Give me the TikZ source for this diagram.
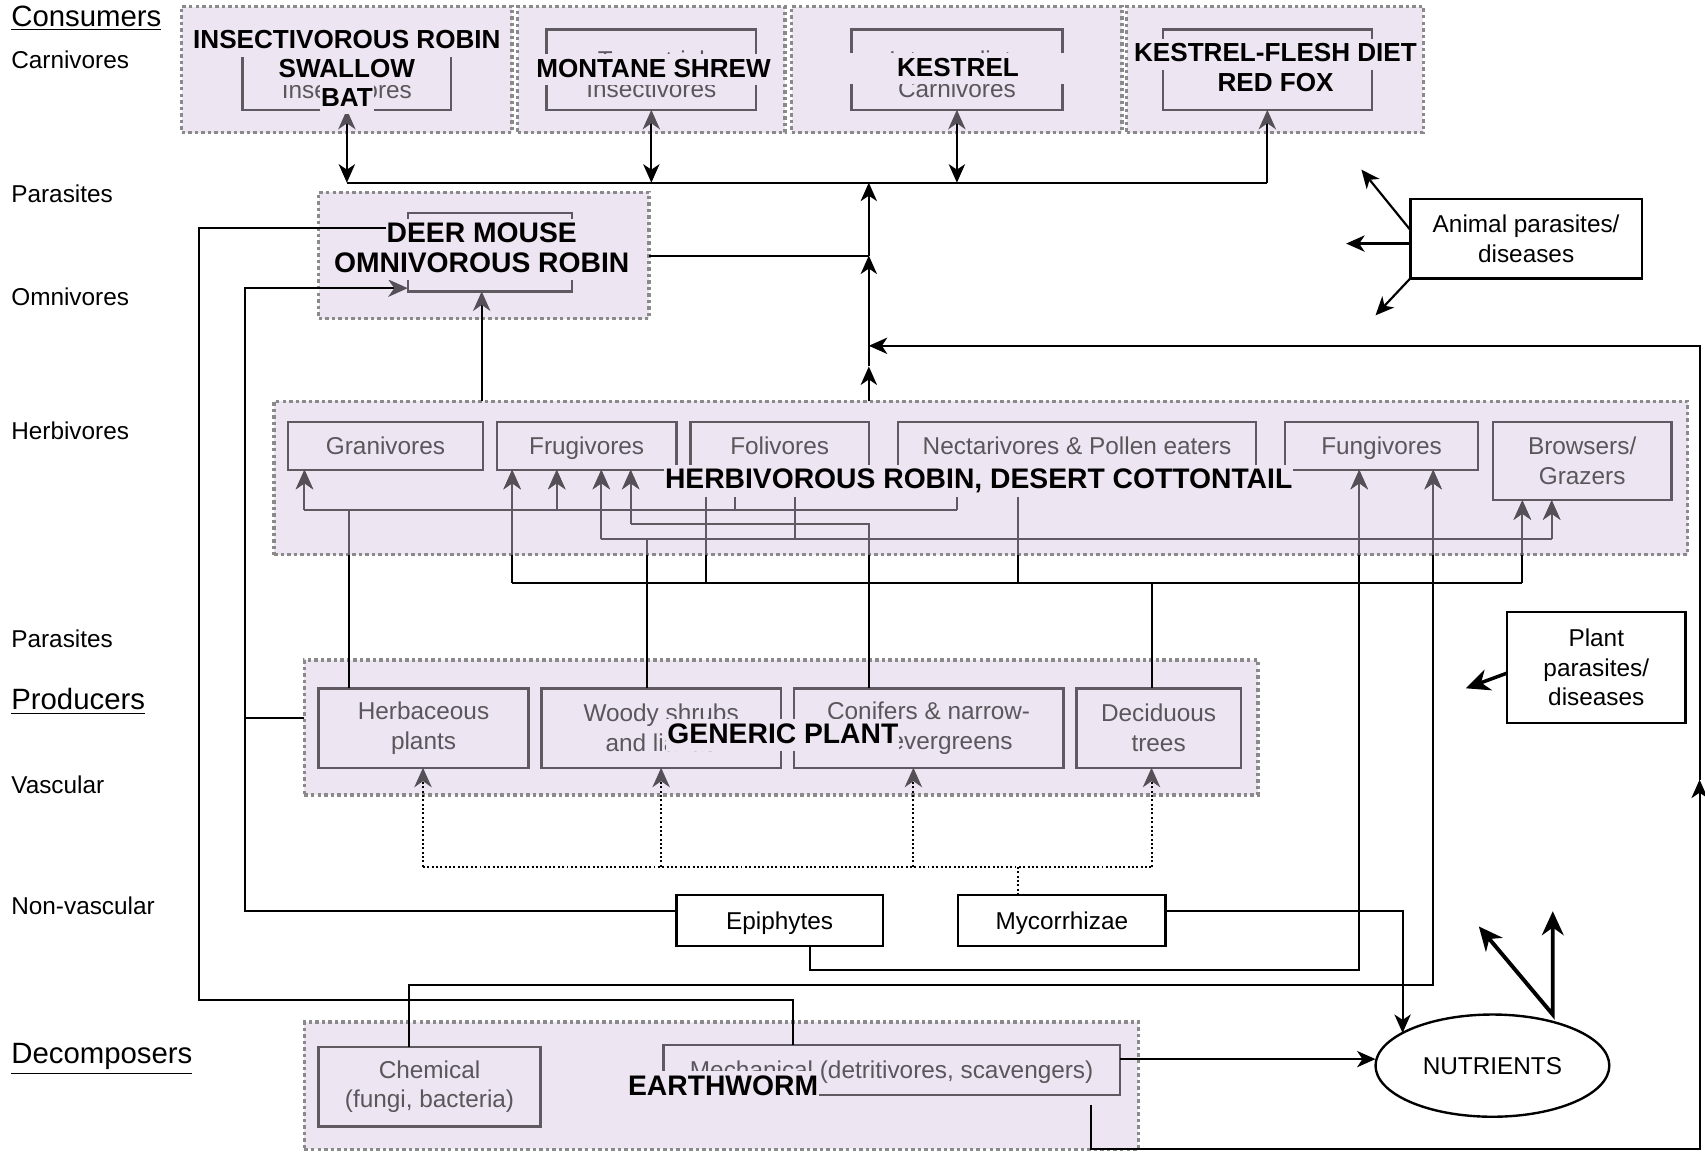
\documentclass[tikz,border=0pt]{standalone}
\usepackage{fontspec}
\setmainfont{Liberation Sans}
\usetikzlibrary{positioning,arrows.meta,shapes.geometric}

\definecolor{lav}{RGB}{237,229,241}
\definecolor{dotgrey}{RGB}{138,138,138}
\definecolor{boxgrey}{RGB}{95,90,98}
\definecolor{txtgrey}{RGB}{90,87,92}
\definecolor{arrowgrey}{RGB}{85,80,88}

% wires from the producers into the herbivores
\newcommand\herbwires{%
  % herbaceous plants
  \draw[wire] (pHerb.north -| 321,0) -- (321,469);
  \draw[wire] (280,469) -- (880,469);
  \draw[wire,-Gt] (280,469) -- (hGran.south -| 280,0);
  \draw[wire,-Gt] (512,469) -- (hFrug.south -| 512,0);
  \draw[wire] (676,469) -- (hFoli.south -| 676,0);
  \draw[wire] (880,469) -- (hNect.south -| 880,0);
  % woody shrubs
  \draw[wire] (pWood.north -| 595,0) -- (595,496);
  \draw[wire] (553,496) -- (1427,496);
  \draw[wire,-Gt] (553,496) -- (hFrug.south -| 553,0);
  \draw[wire,-Gt] (1427,496) -- (hBrow.south -| 1427,0);
  \draw[wire] (731,496) -- (hFoli.south -| 731,0);
  % conifers
  \draw[wire] (pConi.north -| 799,0) -- (799,482) -- (580,482);
  \draw[wire,-Gt] (580,482) -- (hFrug.south -| 580,0);
  % deciduous trees
  \draw[wire] (pDeci.north -| 1059,0) -- (1059,536);
  \draw[wire] (471,536) -- (1400,536);
  \draw[wire,-Gt] (471,536) -- (hFrug.south -| 471,0);
  \draw[wire,-Gt] (1400,536) -- (hBrow.south -| 1400,0);
  \draw[wire] (649,536) -- (hFoli.south -| 649,0);
  \draw[wire] (936,536) -- (hNect.south -| 936,0);
  % epiphytes and chemical decomposers
  \draw[wire,-Gt] (ep.south -| 745,0) |- (1250,892) -- (hFung.south -| 1250,0);
  \draw[wire,-Gt] (dChem.north -| 376,0) |- (1318,906) -- (hFung.south -| 1318,0);
}

\begin{document}
\begin{tikzpicture}[x=0.5pt, y=-0.5pt,
    every node/.style={font=\fontsize{11.2}{13.6}\selectfont},
    group/.style={draw=dotgrey, fill=lav, line width=1.6pt,
                  dash pattern=on 1.6pt off 1.4pt,
                  inner sep=0pt, outer sep=0pt},
    sub/.style={draw=boxgrey, line width=1.1pt, text=txtgrey,
                align=center, inner sep=0pt, outer sep=0pt},
    one/.style={text height=8.1pt, text depth=0pt},
    ink/.style={text=txtgrey, align=center, inner sep=0pt},
    plain/.style={draw, line width=1.1pt, fill=white, align=center,
                  inner sep=0pt, outer sep=0pt},
    tag/.style={fill=lav, inner sep=0.5pt, text height=10pt, text depth=3pt,
                font=\bfseries\fontsize{12}{13.5}\selectfont},
    bigtag/.style={tag, text height=10.5pt, text depth=3.2pt,
                font=\bfseries\fontsize{13}{14}\selectfont},
    side/.style={anchor=west, inner sep=0pt},
    head/.style={side, font=\fontsize{13.5}{16}\selectfont},
    wire/.style={line width=0.9pt},
    dots/.style={line width=0.9pt, dash pattern=on 0.9pt off 1.1pt},
    Bt/.tip={Stealth[length=8.5pt,width=7.5pt,inset=2.5pt]},
    Gt/.tip={Stealth[length=9pt,width=8pt,inset=2.8pt,color=arrowgrey]},
    Wt/.tip={Stealth[length=11pt,width=10pt,inset=3.5pt]}
  ]

    \fill[white] (0,0) rectangle (1568,1066);
    \useasboundingbox (0,0) rectangle (1568,1066);

    % side labels
    \node[head] (hCon) at (10,17) {\underline{Consumers}};
    \node[side] (sCar) at (10,55) {Carnivores};
    \node[side] (sPa1) at (10,178) {Parasites};
    \node[side] (sOmn) at (10,273) {Omnivores};
    \node[side] (sHer) at (10,396) {Herbivores};
    \node[side] (sPa2) at (10,587) {Parasites};
    \node[head] (hPro) at (10,645) {\underline{Producers}};
    \node[side] (sVas) at (10,722) {Vascular};
    \node[side] (sNon) at (10,833) {Non-vascular};
    \node[head] (hDec) at (10,974) {\underline{Decomposers}};

    % consumers
    \node[group, minimum width=152pt, minimum height=58pt] (gIns) at (319,64) {};
    \node[group, minimum width=123pt, minimum height=58pt, right=2.5pt of gIns] (gTer) {};
    \node[group, minimum width=152pt, minimum height=58pt, right=3pt of gTer] (gInt) {};
    \node[group, minimum width=136.5pt, minimum height=58pt, right=2pt of gInt] (gTop) {};
    \node[sub, minimum width=96pt, minimum height=37pt] (iIns) at (gIns) {};
    \node[sub, minimum width=96.5pt, minimum height=37pt] (iTer) at (gTer) {};
    \node[sub, minimum width=97pt, minimum height=37pt] (iInt) at (gInt) {};
    \node[sub, minimum width=96pt, minimum height=37pt] (iTop) at ([xshift=-3.5pt]gTop.center) {};
    \node[ink] (tIns) at (319,83) {Insectivores};
    \node[ink] (tTer) at ([yshift=-2.25pt]iTer.center) {Terrestrial\\Insectivores};
    \node[ink] (tInt) at ([yshift=-2.25pt]iInt.center) {Intermediate\\Carnivores};

    % omnivores
    \node[group, minimum width=152pt, minimum height=58pt] (gOmn) at (445,235) {};
    \node[sub, minimum width=75.5pt, minimum height=36pt] (oIn) at (450.5,232) {};

    % herbivores
    \node[group, minimum width=650pt, minimum height=70.5pt] (gHerb) at (902,439.5) {};
    \node[sub, one, minimum width=89.5pt, minimum height=22pt] (hGran) at (354.5,410) {Granivores};
    \node[sub, one, minimum width=82.5pt, minimum height=22pt, right=6.5pt of hGran] (hFrug) {Frugivores};
    \node[sub, one, minimum width=82pt, minimum height=22pt, right=6.5pt of hFrug] (hFoli) {Folivores};
    \node[sub, one, minimum width=164.5pt, minimum height=22pt, right=13.5pt of hFoli] (hNect) {Nectarivores \& Pollen eaters};
    \node[sub, one, minimum width=88.5pt, minimum height=22pt, right=13.5pt of hNect] (hFung) {Fungivores};
    \node[sub, minimum width=82pt, minimum height=36pt, anchor=north west] (hBrow)
        at ([xshift=7pt]hFung.north east) {Browsers/\\Grazers};

    % producers
    \node[group, minimum width=438.5pt, minimum height=62pt] (gProd) at (718.5,669) {};
    \node[sub, minimum width=96.5pt, minimum height=36.5pt] (pHerb) at (389.5,669.5) {Herbaceous\\plants};
    \node[sub, minimum width=110pt, minimum height=36.5pt, right=6pt of pHerb] (pWood) {Woody shrubs\\and lianas};
    \node[sub, minimum width=124pt, minimum height=36.5pt, right=6pt of pWood] (pConi) {Conifers \& narrow-\\leaf evergreens};
    \node[sub, minimum width=75.5pt, minimum height=36.5pt, right=6pt of pConi] (pDeci) {Deciduous\\trees};

    % non-vascular
    \node[plain, one, minimum width=95pt, minimum height=23.5pt] (ep) at (717,846.5) {Epiphytes};
    \node[plain, one, minimum width=95.5pt, minimum height=23.5pt, right=34.5pt of ep] (myc) {Mycorrhizae};

    % decomposers
    \node[group, minimum width=383.5pt, minimum height=58.5pt] (gDec) at (663.5,998.5) {};
    \node[sub, minimum width=102pt, minimum height=36.5pt] (dChem) at (395,999.5) {Chemical\\(fungi, bacteria)};
    \node[sub, one, minimum width=210pt, minimum height=23pt] (dMech) at (820,984) {Mechanical (detritivores, scavengers)};

    % parasites and nutrients
    \node[plain, minimum width=106.5pt, minimum height=36.5pt] (ap) at (1403.5,219.5) {Animal parasites/\\diseases};
    \node[plain, minimum width=82pt, minimum height=51pt] (pp) at (1468,614) {Plant\\parasites/\\diseases};
    \node[plain, one, ellipse, minimum width=107.5pt, minimum height=47pt] (nut) at (1372.5,980) {NUTRIENTS};

    % consumer bus
    \coordinate (busL) at (319,168);
    \coordinate (busR) at (iTop.south |- busL);
    \draw[wire] (busL) -- (busR);
    \foreach \b in {iIns,iTer,iInt}
        \draw[wire,Gt-Bt] (\b.south) -- (\b.south |- busL);
    \draw[wire,-Gt] (busR) -- (iTop.south);

    % trunk up to the consumers
    \coordinate (t1) at (799,337);
    \coordinate (t2) at (gOmn.east -| t1);
    \coordinate (rA) at (1563,717);
    \coordinate (rT) at (1563,318);
    \draw[wire,-Bt] (hFoli.east |- gHerb.north) -- (t1);
    \draw[wire,-Bt] (t1) -- (t2);
    \draw[wire,-Bt] (t2) -- (t1 |- busL);
    \draw[wire] (gOmn.east) -- (t2);

    % return loop from the mechanical decomposers
    \coordinate (mR) at ([xshift=-13.5pt,yshift=-4.5pt]dMech.south east);
    \draw[wire,-Bt] (mR) |- (rA |- gDec.south) -- (rA);
    \draw[wire,-Bt] (rA) -- (rT) -- (t1 |- rT);

    % feeding the omnivores
    \coordinate (oL) at (360,210);
    \draw[wire,-Gt] (gHerb.north -| 443,0) -- (oIn.south -| 443,0);
    \draw[wire,-Gt] ([yshift=4.5pt]ep.west) -| (225,265) -- (oIn.south west |- 0,265);
    \draw[wire] ([yshift=4.5pt]gProd.west) -- ++(-27.5pt,0);
    \draw[wire] ([xshift=-45.5pt]dMech.north) |- (183,920) |- (oL);

    % herbivore wires, grey inside the group
    \herbwires
    \begin{scope}[wire/.style={line width=0.9pt, draw=boxgrey}]
        \clip (gHerb.south west) rectangle (gHerb.north east);
        \herbwires
    \end{scope}

    % mycorrhizae
    \draw[dots] (myc.north -| 936,0) -- (936,797);
    \draw[dots] (389,797) -- (1059,797);
    \foreach \x/\b in {389/pHerb,608/pWood,840/pConi,1059/pDeci}
        \draw[dots,-Gt] (\x,797) -- (\b.south -| \x,0);

    % to the nutrients
    \coordinate (mE) at ([yshift=5pt]dMech.east);
    \draw[wire,-Bt] ([yshift=4.5pt]myc.east) -| (nut.160);
    \draw[wire,-Bt] (mE) -- (mE -| nut.west);
    \coordinate (n1) at (1360,852);
    \coordinate (n2) at (1428,838);
    \draw[line width=1.8pt, Wt-Wt] (n1) -- (nut.north -| n2) -- (n2);

    % parasites
    \coordinate (ap1) at (1252,156);
    \coordinate (ap2) at (1238,224);
    \coordinate (ap3) at (1265,290);
    \coordinate (pp1) at (1348,633);
    \draw[line width=1pt,-Bt] ([yshift=4pt]ap.west) -- (ap1);
    \draw[line width=1pt,-Bt] ([yshift=-2.25pt]ap.west) -- (ap2);
    \draw[line width=1pt,-Bt] (ap.south west) -- (ap3);
    \draw[line width=1.6pt,-Wt] ([yshift=-2.5pt]pp.west) -- (pp1);

    % species labels on top
    \node[tag] (lIns1) at (319,38) {INSECTIVOROUS ROBIN};
    \node[tag] (lIns2) at (319,64) {SWALLOW};
    \node[tag] (lIns3) at (319,91) {BAT};
    \node[tag] (lTer) at (601,64) {MONTANE SHREW};
    \node[tag, minimum width=100pt] (lInt) at (881,63) {KESTREL};
    \node[tag] (lTop1) at (1173,50) {KESTREL-FLESH DIET};
    \node[tag] (lTop2) at (1173,77) {RED FOX};
    \node[bigtag] (lOmn1) at (443,216) {DEER MOUSE};
    \node[bigtag] (lOmn2) at (443,243) {OMNIVOROUS ROBIN};
    \node[bigtag] (lHerb) at (900,442) {HERBIVOROUS ROBIN, DESERT COTTONTAIL};
    \node[bigtag] (lProd) at (720,676) {GENERIC PLANT};
    \node[bigtag] (lDec) at (665,1000) {EARTHWORM};
\end{tikzpicture}
\end{document}
